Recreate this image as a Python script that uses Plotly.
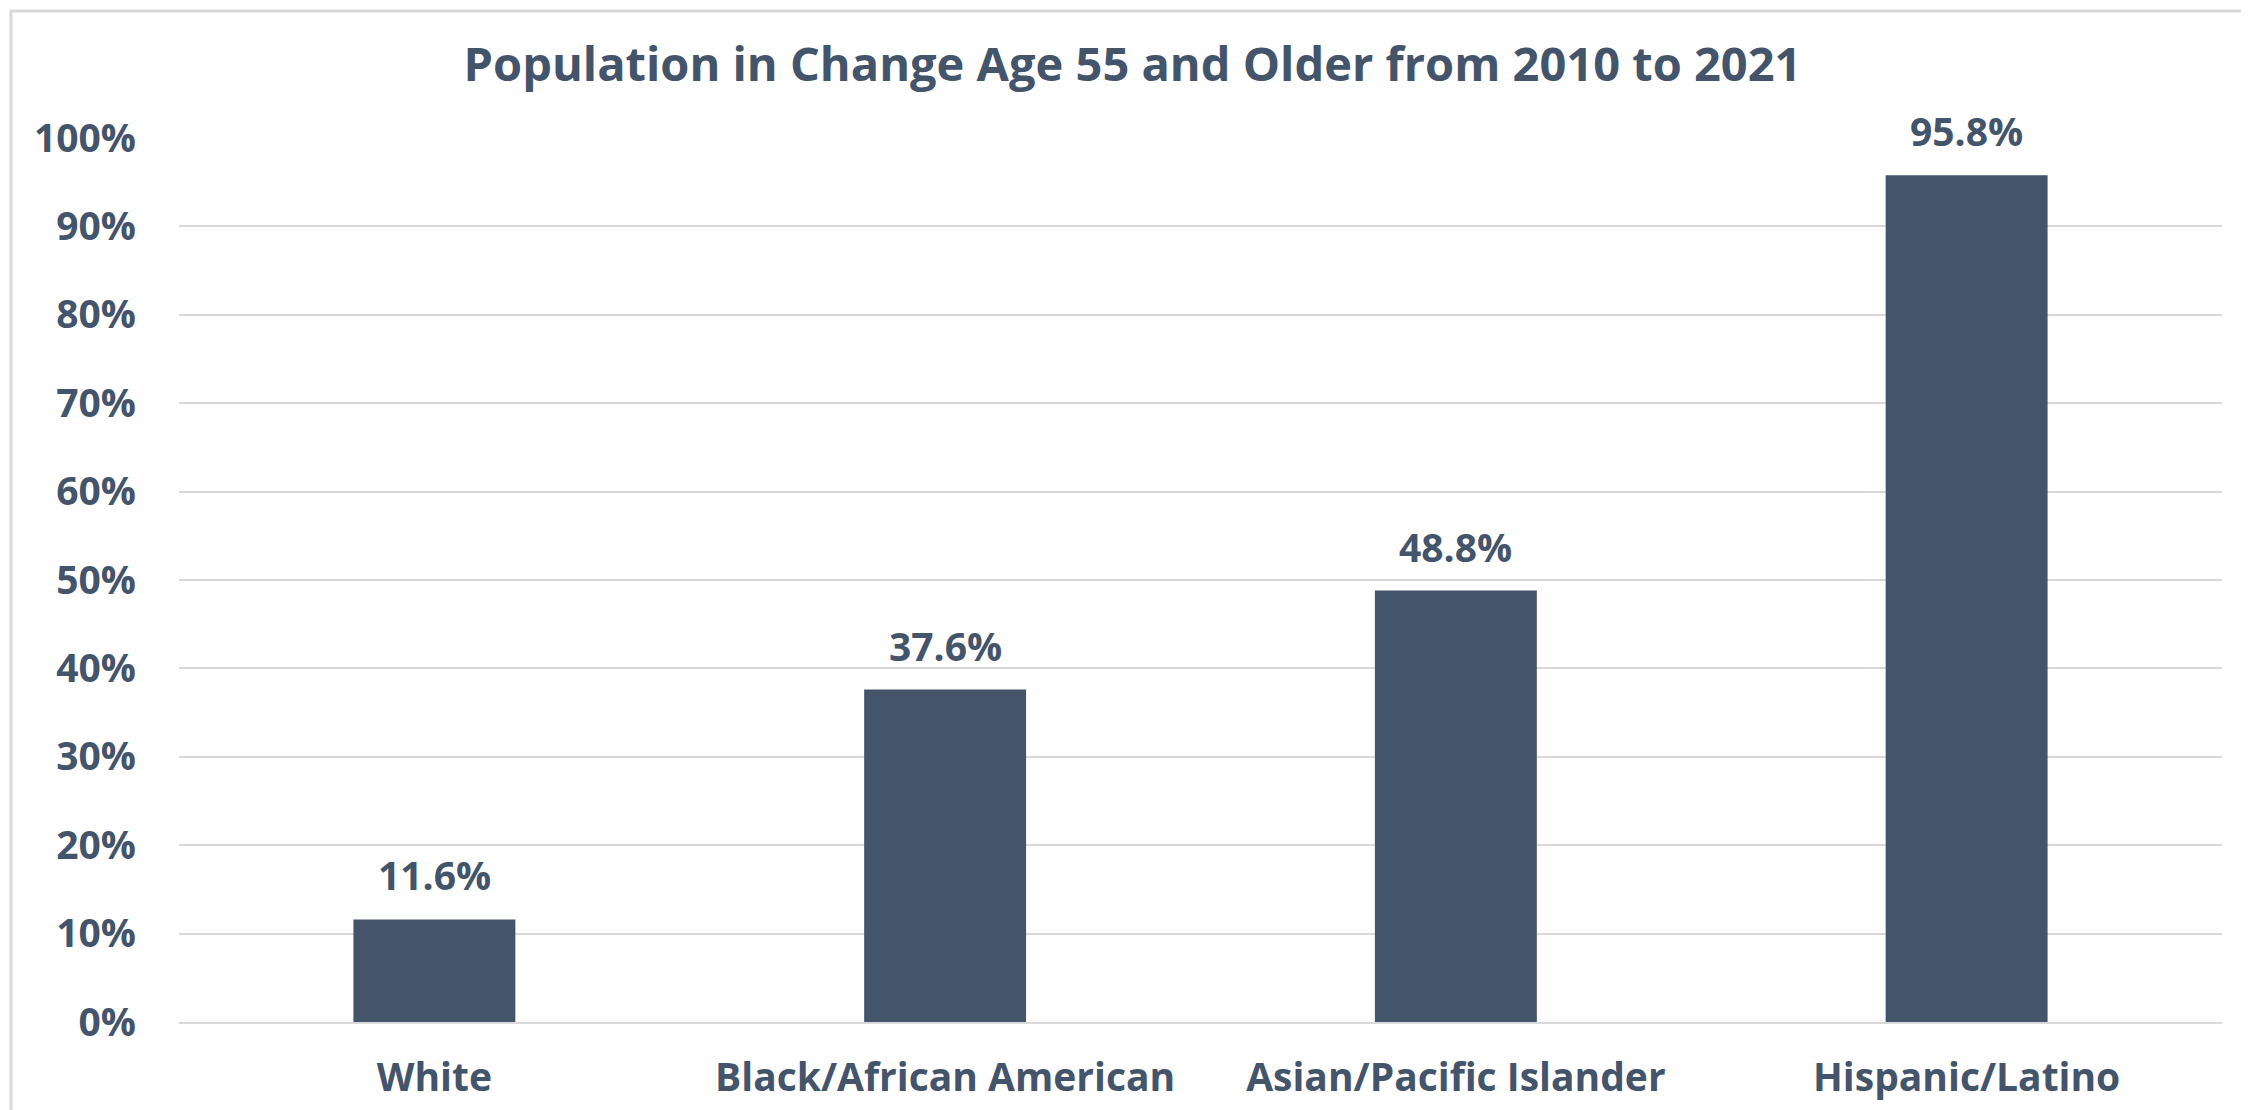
import plotly.graph_objects as go

categories = ["White", "Black/African American", "Asian/Pacific Islander", "Hispanic/Latino"]
values = [11.6, 37.6, 48.8, 95.8]
y_ticks = [0, 10, 20, 30, 40, 50, 60, 70, 80, 90, 100]
y_tick_labels = [f"{v}%" for v in y_ticks]

W, H = 2249, 1110
ML, MR, MT, MB = 171, 35, 130, 96
TEXT = "#44546A"
FONT = "Open Sans"
LBL = 39

fig = go.Figure(
    go.Bar(
        x=categories,
        y=values,
        marker=dict(color="#44546A", line=dict(width=0)),
        cliponaxis=False,
        hoverinfo="x+y",
    )
)

annotations = [
    dict(
        x=c,
        y=v,
        xref="x",
        yref="y",
        text=f"<b>{v:.1f}%</b>",
        showarrow=False,
        yanchor="bottom",
        xanchor="center",
        yshift=16,
        font=dict(family=FONT, size=LBL, color=TEXT),
    )
    for c, v in zip(categories, values)
]

fig.update_layout(
    width=W,
    height=H,
    margin=dict(l=ML, r=MR, t=MT, b=MB),
    paper_bgcolor="white",
    plot_bgcolor="white",
    bargap=0.683,
    showlegend=False,
    annotations=annotations,
    title=dict(
        text="<b>Population in Change Age 55 and Older from 2010 to 2021</b>",
        x=0.5,
        xanchor="center",
        y=1 - 57 / H,
        yanchor="middle",
        font=dict(family=FONT, size=47, color=TEXT),
    ),
    xaxis=dict(
        showgrid=False,
        showline=True,
        linecolor="#D9D9D9",
        linewidth=2,
        ticks="",
        tickfont=dict(family=FONT, size=LBL, color=TEXT, weight="bold"),
        ticklabelstandoff=20,
    ),
    yaxis=dict(
        range=[0, 100],
        tickvals=y_ticks,
        ticktext=y_tick_labels,
        showgrid=True,
        gridcolor="#D9D9D9",
        gridwidth=2,
        zeroline=False,
        showline=False,
        ticks="",
        tickfont=dict(family=FONT, size=LBL, color=TEXT, weight="bold"),
        ticklabelstandoff=42,
    ),
    shapes=[
        dict(
            type="rect",
            xref="paper",
            yref="paper",
            x0=(3 - ML) / (W - ML - MR),
            x1=(W - 3 - ML) / (W - ML - MR),
            y0=(3 - MB) / (H - MT - MB),
            y1=(H - 3 - MB) / (H - MT - MB),
            line=dict(color="#D9D9D9", width=3),
            layer="below",
        )
    ],
)

fig.write_html("out.html")
